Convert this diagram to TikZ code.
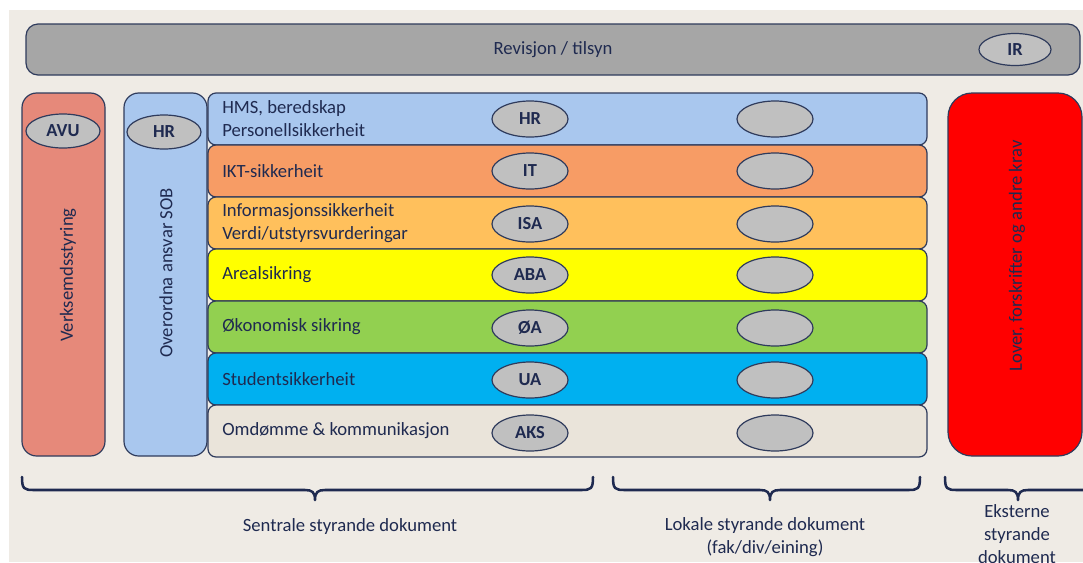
\documentclass[tikz,border=0pt]{standalone}
\usepackage{fontspec}
\setmainfont{Carlito}
\usetikzlibrary{shapes.geometric}
\definecolor{bgc}{HTML}{EFEBE5}
\definecolor{navy}{HTML}{1F2A50}
\definecolor{edge}{HTML}{2F3B5C}
\definecolor{graybar}{HTML}{A6A6A6}
\definecolor{ellc}{HTML}{C0C0C0}
\definecolor{salmon}{HTML}{E6897A}
\definecolor{lblue}{HTML}{A9C7EE}
\definecolor{orng}{HTML}{F79C65}
\definecolor{lorng}{HTML}{FFC05C}
\definecolor{yel}{HTML}{FFFF00}
\definecolor{grn}{HTML}{92D050}
\definecolor{cyan2}{HTML}{00B0F0}
\definecolor{beige}{HTML}{EAE4DA}
\definecolor{redc}{HTML}{FF0000}
\tikzset{
  colbox/.style={draw=edge, line width=0.9pt, rounded corners=11pt, minimum width=62.25pt, minimum height=272.25pt, inner sep=0pt},
  rowbox/.style={draw=edge, line width=0.9pt, rounded corners=6pt, minimum width=539.25pt, minimum height=39pt, inner sep=0pt},
  tag/.style={ellipse, draw=edge, line width=0.9pt, fill=ellc, minimum width=57pt, minimum height=27pt, inner sep=0pt, font=\fontsize{13.8}{15}\selectfont\bfseries, text=navy},
  rowtxt/.style={anchor=west, align=left, font=\fontsize{14}{17.25}\selectfont, text=navy, inner sep=0pt},
  lbl/.style={align=center, font=\fontsize{14}{17.25}\selectfont, text=navy, inner sep=0pt},
  brace/.style={draw=navy, line width=1.9pt, line cap=round, line join=round}
}
\begin{document}
\begin{tikzpicture}[x=0.75pt,y=-0.75pt]
\useasboundingbox (0,0) rectangle (1083,562);
\fill[white] (0,0) rectangle (1083,562);
\fill[bgc] (9,10) rectangle (1083,562);

% top bar
\node[draw=edge, line width=0.9pt, fill=graybar, rounded corners=9pt, minimum width=790.5pt, minimum height=38.25pt] (rev) at (553,49.5) {};
\node[lbl] (revt) at (553,49.5) {Revisjon / tilsyn};
\node[tag, minimum width=54pt, minimum height=24pt] (ir) at (1015,49.5) {IR};

% left columns
\node[colbox, fill=salmon] (avu) at (63.5,274.5) {};
\node[tag, minimum width=55.5pt, minimum height=25.5pt] (avue) at (63,131) {AVU};
\node[lbl, rotate=90] (avut) at (68,275) {Verksemdsstyring};

\node[colbox, fill=lblue] (hrc) at (165.5,274.5) {};
\node[tag, minimum width=55.5pt, minimum height=25.5pt] (hre) at (164,132) {HR};
\node[lbl, rotate=90] (hrt) at (166,273) {Overordna ansvar SOB};

% rows
\node[rowbox, fill=lblue]  (r1) at (567.5,119) {};
\node[rowbox, fill=orng]   (r2) at (567.5,171) {};
\node[rowbox, fill=lorng]  (r3) at (567.5,223) {};
\node[rowbox, fill=yel]    (r4) at (567.5,275) {};
\node[rowbox, fill=grn]    (r5) at (567.5,327) {};
\node[rowbox, fill=cyan2]  (r6) at (567.5,379) {};
\node[rowbox, fill=beige]  (r7) at (567.5,431) {};

\node[rowtxt] (t1) at (222,119) {HMS, beredskap\\Personellsikkerheit};
\node[rowtxt] (t2) at (222,171) {IKT-sikkerheit};
\node[rowtxt] (t3) at (222,223) {Informasjonssikkerheit\\Verdi/utstyrsvurderingar};
\node[rowtxt] (t4) at (222,275) {Arealsikring};
\node[rowtxt] (t5) at (222,327) {Økonomisk sikring};
\node[rowtxt] (t6) at (222,379) {Studentsikkerheit};
\node[rowtxt] (t7) at (222,431) {Omdømme \& kommunikasjon};

\node[tag] (e1) at (530,119) {HR};
\node[tag] (e2) at (530,171) {IT};
\node[tag] (e3) at (530,224) {ISA};
\node[tag] (e4) at (530,275) {ABA};
\node[tag] (e5) at (530,328) {ØA};
\node[tag] (e6) at (530,380) {UA};
\node[tag] (e7) at (530,433) {AKS};

\node[tag] (f1) at (775,119) {};
\node[tag] (f2) at (775,171) {};
\node[tag] (f3) at (775,224) {};
\node[tag] (f4) at (775,275) {};
\node[tag] (f5) at (775,328) {};
\node[tag] (f6) at (775,380) {};
\node[tag] (f7) at (775,433) {};

% right column
\node[draw=edge, line width=0.9pt, fill=redc, rounded corners=18pt, minimum width=100.5pt, minimum height=272.25pt] (ext) at (1015,274.5) {};
\node[lbl, rotate=90] (extt) at (1017,256) {Lover, forskrifter og andre krav};

% braces
\draw[brace] (22,477) .. controls (22,489) and (24,490) .. (34,490) -- (305,490) .. controls (312,490) and (315,492) .. (315,500) .. controls (315,492) and (318,490) .. (325,490) -- (581,490) .. controls (591,490) and (593,489) .. (593,477);
\draw[brace] (613,477) .. controls (613,489) and (615,490) .. (625,490) -- (760,490) .. controls (767,490) and (770,492) .. (770,500) .. controls (770,492) and (773,490) .. (780,490) -- (908,490) .. controls (918,490) and (920,489) .. (920,477);
\draw[brace] (945,477) .. controls (945,489) and (947,490) .. (957,490) -- (1008,490) .. controls (1015,490) and (1018,492) .. (1018,500) .. controls (1018,492) and (1021,490) .. (1028,490) -- (1090,490);

\node[lbl] (sent) at (350,527) {Sentrale styrande dokument};
\node[lbl] (lok) at (765,537) {Lokale styrande dokument\\(fak/div/eining)};
\node[lbl, anchor=north] (eks) at (1017,504) {Eksterne\\styrande\\dokument};
\end{tikzpicture}
\end{document}
